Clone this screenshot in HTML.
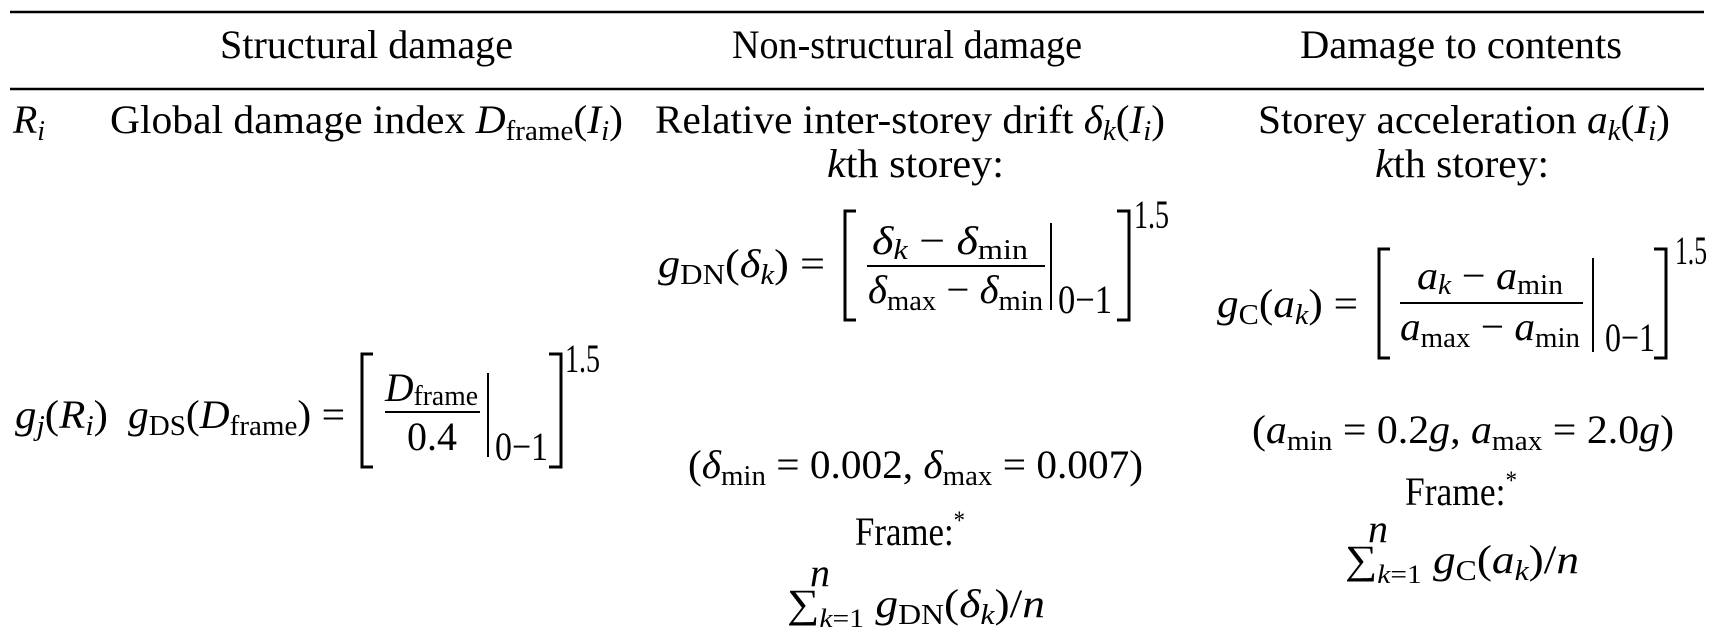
<!DOCTYPE html>
<html><head><meta charset="utf-8"><style>
html,body{margin:0;padding:0;background:#fff;}
svg{display:block;}
text{font-family:"Liberation Serif","DejaVu Serif",serif;font-size:40px;fill:#000;}
.it{font-style:italic;}
</style></head><body>
<svg width="1714" height="641" viewBox="0 0 1714 641" xmlns="http://www.w3.org/2000/svg">
<g stroke="#000" stroke-width="2.5" fill="none">
<line x1="10" y1="12" x2="1704" y2="12"/>
<line x1="10" y1="89" x2="1704" y2="89"/>
</g>
<!-- header -->
<text x="220" y="58" textLength="293" lengthAdjust="spacingAndGlyphs">Structural damage</text>
<text x="732" y="58" textLength="350" lengthAdjust="spacingAndGlyphs">Non-structural damage</text>
<text x="1300" y="58" textLength="322" lengthAdjust="spacingAndGlyphs">Damage to contents</text>

<!-- row 1 -->
<text x="13" y="133" textLength="32" lengthAdjust="spacingAndGlyphs"><tspan class="it">R</tspan><tspan class="it" font-size="28" dy="7">i</tspan></text>
<text x="110" y="133" textLength="513" lengthAdjust="spacingAndGlyphs">Global damage index <tspan class="it">D</tspan><tspan font-size="28" dy="7">frame</tspan><tspan dy="-7">(</tspan><tspan class="it">I</tspan><tspan class="it" font-size="28" dy="7">i</tspan><tspan dy="-7">)</tspan></text>
<text x="655" y="133" textLength="510" lengthAdjust="spacingAndGlyphs">Relative inter-storey drift <tspan class="it">δ</tspan><tspan class="it" font-size="28" dy="7">k</tspan><tspan dy="-7">(</tspan><tspan class="it">I</tspan><tspan class="it" font-size="28" dy="7">i</tspan><tspan dy="-7">)</tspan></text>
<text x="827" y="177" textLength="177" lengthAdjust="spacingAndGlyphs"><tspan class="it">k</tspan>th storey:</text>
<text x="1258" y="133" textLength="412" lengthAdjust="spacingAndGlyphs">Storey acceleration <tspan class="it">a</tspan><tspan class="it" font-size="28" dy="7">k</tspan><tspan dy="-7">(</tspan><tspan class="it">I</tspan><tspan class="it" font-size="28" dy="7">i</tspan><tspan dy="-7">)</tspan></text>
<text x="1375" y="177" textLength="174" lengthAdjust="spacingAndGlyphs"><tspan class="it">k</tspan>th storey:</text>

<!-- col1 formula -->
<text x="15" y="428" textLength="93" lengthAdjust="spacingAndGlyphs"><tspan class="it">g</tspan><tspan class="it" font-size="28" dy="7">j</tspan><tspan dy="-7">(</tspan><tspan class="it">R</tspan><tspan class="it" font-size="28" dy="7">i</tspan><tspan dy="-7">)</tspan></text>
<text x="128" y="428" textLength="217" lengthAdjust="spacingAndGlyphs"><tspan class="it">g</tspan><tspan font-size="28" dy="7">DS</tspan><tspan dy="-7">(</tspan><tspan class="it">D</tspan><tspan font-size="28" dy="7">frame</tspan><tspan dy="-7">) =</tspan></text>
<text x="385" y="401" textLength="93" lengthAdjust="spacingAndGlyphs"><tspan class="it">D</tspan><tspan font-size="28" dy="4">frame</tspan></text>
<text x="432" y="450" text-anchor="middle">0.4</text>
<text x="495" y="460" font-size="28" textLength="53" lengthAdjust="spacingAndGlyphs">0−1</text>
<text x="565" y="372" font-size="26" textLength="35" lengthAdjust="spacingAndGlyphs">1.5</text>
<g stroke="#000" fill="none">
<path d="M373,354 H362 V467 H373" stroke-width="3"/>
<path d="M549,354 H561 V467 H549" stroke-width="3"/>
<line x1="385" y1="412" x2="480" y2="412" stroke-width="2"/>
<line x1="488" y1="373" x2="488" y2="457" stroke-width="2"/>
</g>

<!-- col2 formula -->
<text x="658" y="277" textLength="167" lengthAdjust="spacingAndGlyphs"><tspan class="it">g</tspan><tspan font-size="28" dy="7">DN</tspan><tspan dy="-7">(</tspan><tspan class="it">δ</tspan><tspan class="it" font-size="28" dy="7">k</tspan><tspan dy="-7">) =</tspan></text>
<text x="872" y="254" textLength="156" lengthAdjust="spacingAndGlyphs"><tspan class="it">δ</tspan><tspan class="it" font-size="28" dy="5">k</tspan><tspan dy="-5"> − </tspan><tspan class="it">δ</tspan><tspan font-size="28" dy="5">min</tspan></text>
<text x="868" y="303" textLength="175" lengthAdjust="spacingAndGlyphs"><tspan class="it">δ</tspan><tspan font-size="28" dy="7">max</tspan><tspan dy="-7"> − </tspan><tspan class="it">δ</tspan><tspan font-size="28" dy="7">min</tspan></text>
<text x="1058" y="313" font-size="28" textLength="54" lengthAdjust="spacingAndGlyphs">0−1</text>
<text x="1134" y="228" font-size="26" textLength="35" lengthAdjust="spacingAndGlyphs">1.5</text>
<g stroke="#000" fill="none">
<path d="M856,211 H845 V320 H856" stroke-width="3"/>
<path d="M1117,211 H1129 V320 H1117" stroke-width="3"/>
<line x1="867" y1="266" x2="1045" y2="266" stroke-width="2"/>
<line x1="1051" y1="223" x2="1051" y2="310" stroke-width="2"/>
</g>

<!-- col3 formula -->
<text x="1217" y="317" textLength="141" lengthAdjust="spacingAndGlyphs"><tspan class="it">g</tspan><tspan font-size="28" dy="7">C</tspan><tspan dy="-7">(</tspan><tspan class="it">a</tspan><tspan class="it" font-size="28" dy="7">k</tspan><tspan dy="-7">) =</tspan></text>
<text x="1417" y="289" textLength="146" lengthAdjust="spacingAndGlyphs"><tspan class="it">a</tspan><tspan class="it" font-size="28" dy="5">k</tspan><tspan dy="-5"> − </tspan><tspan class="it">a</tspan><tspan font-size="28" dy="5">min</tspan></text>
<text x="1400" y="340" textLength="180" lengthAdjust="spacingAndGlyphs"><tspan class="it">a</tspan><tspan font-size="28" dy="7">max</tspan><tspan dy="-7"> − </tspan><tspan class="it">a</tspan><tspan font-size="28" dy="7">min</tspan></text>
<text x="1605" y="351" font-size="28" textLength="50" lengthAdjust="spacingAndGlyphs">0−1</text>
<text x="1675" y="264" font-size="26" textLength="32" lengthAdjust="spacingAndGlyphs">1.5</text>
<g stroke="#000" fill="none">
<path d="M1390,249 H1379 V358 H1390" stroke-width="3"/>
<path d="M1654,249 H1666 V358 H1654" stroke-width="3"/>
<line x1="1400" y1="303" x2="1583" y2="303" stroke-width="2"/>
<line x1="1593" y1="258" x2="1593" y2="352" stroke-width="2"/>
</g>

<!-- lower col2 -->
<text x="688" y="478" textLength="455" lengthAdjust="spacingAndGlyphs">(<tspan class="it">δ</tspan><tspan font-size="28" dy="7">min</tspan><tspan dy="-7"> = 0.002,  </tspan><tspan class="it">δ</tspan><tspan font-size="28" dy="7">max</tspan><tspan dy="-7"> = 0.007)</tspan></text>
<text x="855" y="545" textLength="110" lengthAdjust="spacingAndGlyphs">Frame:<tspan font-size="26" dy="-16">*</tspan></text>
<text x="787" y="617" textLength="258" lengthAdjust="spacingAndGlyphs">∑<tspan class="it" font-size="26" dy="10">k</tspan><tspan font-size="26">=1</tspan><tspan dy="-10"> </tspan><tspan class="it">g</tspan><tspan font-size="28" dy="7">DN</tspan><tspan dy="-7">(</tspan><tspan class="it">δ</tspan><tspan class="it" font-size="28" dy="7">k</tspan><tspan dy="-7">)/</tspan><tspan class="it">n</tspan></text>
<text x="810" y="586" font-size="24" class="it">n</text>

<!-- lower col3 -->
<text x="1252" y="443" textLength="422" lengthAdjust="spacingAndGlyphs">(<tspan class="it">a</tspan><tspan font-size="28" dy="7">min</tspan><tspan dy="-7"> = 0.2</tspan><tspan class="it">g</tspan><tspan>,  </tspan><tspan class="it">a</tspan><tspan font-size="28" dy="7">max</tspan><tspan dy="-7"> = 2.0</tspan><tspan class="it">g</tspan>)</text>
<text x="1405" y="505" textLength="112" lengthAdjust="spacingAndGlyphs">Frame:<tspan font-size="26" dy="-16">*</tspan></text>
<text x="1345" y="573" textLength="234" lengthAdjust="spacingAndGlyphs">∑<tspan class="it" font-size="26" dy="10">k</tspan><tspan font-size="26">=1</tspan><tspan dy="-10"> </tspan><tspan class="it">g</tspan><tspan font-size="28" dy="7">C</tspan><tspan dy="-7">(</tspan><tspan class="it">a</tspan><tspan class="it" font-size="28" dy="7">k</tspan><tspan dy="-7">)/</tspan><tspan class="it">n</tspan></text>
<text x="1368" y="542" font-size="24" class="it">n</text>
</svg>
</body></html>
